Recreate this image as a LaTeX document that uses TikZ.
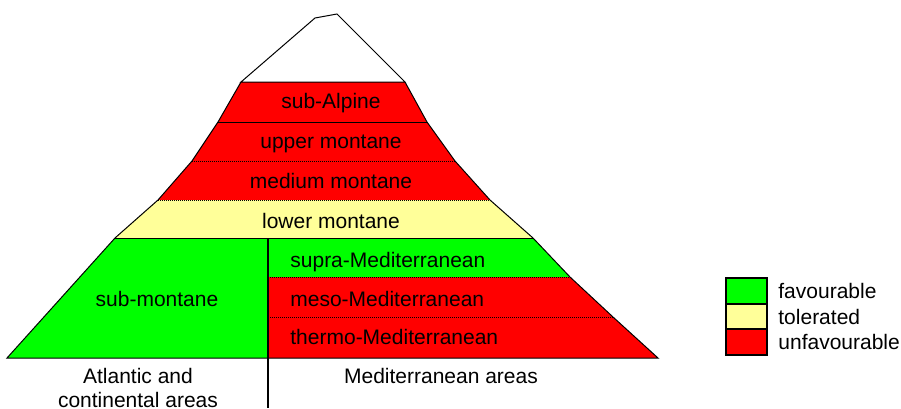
\documentclass[tikz,border=0pt]{standalone}
\usepackage{fontspec}
\setmainfont{Liberation Sans}
\usetikzlibrary{positioning}
\definecolor{favgreen}{RGB}{0,255,0}
\definecolor{tolyellow}{RGB}{255,255,153}
\definecolor{unfavred}{RGB}{255,0,0}

\begin{document}
\begin{tikzpicture}[x=0.5pt, y=-0.5pt,
    zonelbl/.style={font=\fontsize{10.5}{12}\selectfont, inner sep=0pt, anchor=base},
    rimline/.style={line width=0.5pt, black},
    zonesep/.style={line width=0.5pt, black, dash pattern=on 0.5pt off 0.5pt},
    legbox/.style={draw=black, line width=1pt, inner sep=0pt, minimum width=20.5pt, minimum height=12.85pt}]
    \useasboundingbox (0,0) rectangle (901,408);
    % belts, from the top down
    \foreach \lt/\rt/\yt/\lb/\rb/\yb/\col in {
        241/405/82/218/427/122/unfavred,
        218/427/122/192/455/161/unfavred,
        192/455/161/158/490/200/unfavred,
        158/490/200/115/533/238/tolyellow,
        115/268/238/7/268/358/favgreen,
        268/533/238/268/570/277/favgreen,
        268/570/277/268/613/317/unfavred,
        268/613/317/268/658/358/unfavred}{
      \fill[\col] (\lt,\yt) -- (\rt,\yt) -- (\rb,\yb) -- (\lb,\yb) -- cycle;
    }
    % outline and summit
    \draw[rimline] (241,82) -- (315,18) -- (337,14) -- (405,82) -- cycle;
    \draw[rimline] (241,82) -- (218,122) -- (192,161) -- (158,200) -- (115,238) -- (7,358)
      -- (658,358) -- (613,317) -- (570,277) -- (533,238) -- (490,200) -- (455,161) -- (427,122) -- (405,82);
    \draw[rimline] (218,122) -- (427,122);
    \draw[rimline] (115,238) -- (533,238);
    \draw[zonesep] (192,161) -- (455,161);
    \draw[zonesep] (158,200) -- (490,200);
    \draw[zonesep] (268,277) -- (570,277);
    \draw[zonesep] (268,317) -- (613,317);
    \draw[line width=1pt] (268,238) -- (268,408);
    % belt names
    \foreach \nm/\x/\y/\lbl in {
        subalp/331/108/sub-Alpine,
        uppmont/331/148/upper montane,
        medmont/331/188/medium montane,
        lowmont/331/228/lower montane,
        submont/157/306/sub-montane,
        medareas/441/383/Mediterranean areas}{
      \node[zonelbl] (\nm) at (\x,\y) {\lbl};
    }
    \foreach \nm/\y/\lbl in {
        supramed/267/supra-Mediterranean,
        mesomed/306/meso-Mediterranean,
        thermomed/344/thermo-Mediterranean}{
      \node[zonelbl, anchor=base west] (\nm) at (290,\y) {\lbl};
    }
    \node[zonelbl, anchor=north, align=center] (atlareas) at (138,368) {Atlantic and\\continental areas};
    % legend
    \node[legbox, fill=favgreen] (keyfav) at (746.5,291) {};
    \node[legbox, fill=tolyellow] (keytol) at (746.5,316.7) {};
    \node[legbox, fill=unfavred] (keyunf) at (746.5,342.3) {};
    \node[zonelbl, right=5pt of keyfav] (txtfav) {favourable};
    \node[zonelbl, right=5pt of keytol] (txttol) {tolerated};
    \node[zonelbl, right=5pt of keyunf] (txtunf) {unfavourable};
  \end{tikzpicture}
\end{document}
